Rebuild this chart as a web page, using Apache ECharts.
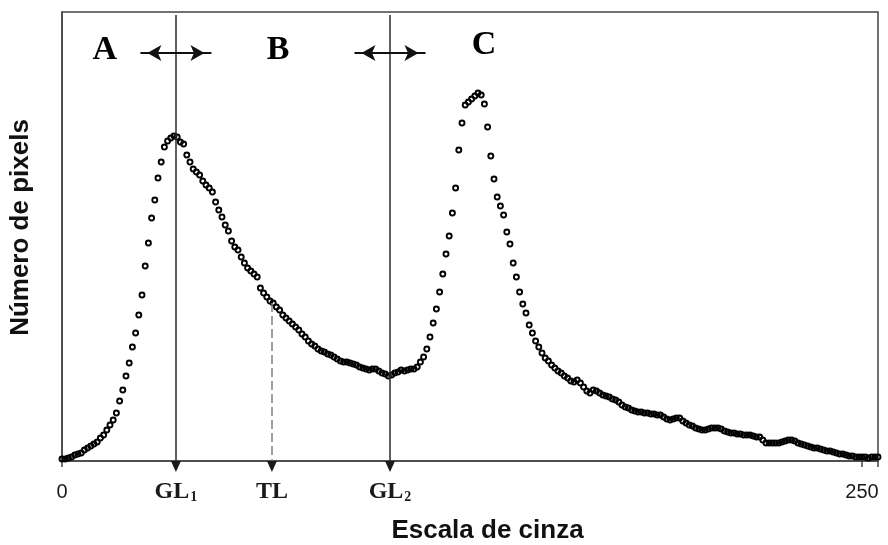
<!DOCTYPE html>
<html>
<head>
<meta charset="utf-8">
<script src="https://cdn.jsdelivr.net/npm/echarts@6/dist/echarts.min.js"></script>
<style>
  html, body { margin: 0; padding: 0; background: #fff; }
  #chart { width: 888px; height: 545px; }
</style>
</head>
<body>
<div id="chart"></div>
<script>
// Grey-level histogram: number of pixels for each grey level 0..255
const pixelCounts = [
  2, 2, 3, 4, 6, 7, 8, 11, 13, 15,
  17, 19, 23, 26, 31, 36, 41, 48, 60, 71,
  85, 98, 114, 128, 146, 166, 195, 218, 243, 261,
  283, 299, 314, 320, 323, 325, 324, 319, 317, 306,
  299, 292, 289, 286, 280, 276, 273, 269, 259, 251,
  244, 236, 230, 220, 214, 211, 204, 198, 193, 190,
  187, 184, 173, 168, 164, 160, 158, 154, 151, 146,
  143, 140, 137, 134, 131, 127, 124, 120, 117, 115,
  112, 110, 109, 107, 106, 104, 102, 100, 99, 99,
  98, 97, 96, 94, 93, 92, 91, 92, 92, 90,
  88, 87, 85, 86, 88, 89, 91, 90, 91, 92,
  92, 94, 99, 104, 112, 124, 138, 152, 169, 187,
  207, 225, 248, 273, 311, 338, 356, 359, 362, 365,
  368, 366, 357, 334, 305, 282, 264, 255, 246, 229,
  217, 198, 184, 169, 157, 148, 136, 128, 120, 114,
  108, 103, 100, 96, 93, 90, 88, 85, 83, 80,
  79, 81, 78, 74, 70, 68, 71, 70, 68, 66,
  65, 64, 62, 61, 59, 56, 54, 53, 51, 50,
  49, 49, 48, 48, 47, 47, 46, 46, 44, 42,
  41, 42, 43, 43, 40, 38, 36, 35, 33, 32,
  31, 31, 32, 33, 33, 33, 32, 30, 29, 28,
  28, 27, 27, 26, 26, 26, 25, 24, 24, 21,
  18, 18, 18, 18, 18, 19, 20, 21, 21, 20,
  18, 17, 16, 15, 14, 13, 13, 12, 11, 10,
  10, 9, 8, 7, 7, 6, 5, 5, 4, 4,
  4, 4, 3, 4, 4, 4
];

// Threshold grey levels marked on the axis
const thresholdNames = ['GL1', 'TL', 'GL2'];
const thresholdValues = [35.6, 65.6, 102.5];

// Axis end ticks
const tickValues = [0, 250];

// Region letters
const regionNames = ['A', 'B', 'C'];

// --- annotation placement (grey level, height in count units) ---
const yTop = 449;
const regionSpots = [[13.4, 411], [67.5, 411], [131.9, 416]];
const arrowHalfSpan = 11.1;
const arrowHeight = 408;
const boundaryTop = 446;

const GL1 = thresholdValues[0], TL = thresholdValues[1], GL2 = thresholdValues[2];
const tlCount = pixelCounts[Math.round(TL)];

const chart = echarts.init(document.getElementById('chart'), null, { renderer: 'canvas' });

const ink = '#111';
const vLine = { color: '#2b2b2b', width: 1.5, type: 'solid' };
const boundary = v => [
  { coord: [v, boundaryTop], lineStyle: vLine },
  { coord: [v, 0] }
];
const doubleArrow = v => [
  { coord: [v - arrowHalfSpan, arrowHeight], symbol: 'arrow', symbolSize: [12, 14], symbolOffset: [0, 7],
    lineStyle: { color: ink, width: 2, type: 'solid' } },
  { coord: [v + arrowHalfSpan, arrowHeight], symbol: 'arrow', symbolSize: [12, 14], symbolOffset: [0, 7] }
];

function axisLabelText(v) {
  const i = thresholdValues.indexOf(v);
  if (i >= 0) {
    const m = thresholdNames[i].match(/^(\D+)(\d)$/);
    return m ? '{serif|' + m[1] + '}{sub|' + m[2] + '}' : '{serif|' + thresholdNames[i] + '}';
  }
  return '{num|' + v + '}';
}

chart.setOption({
  animation: false,
  backgroundColor: '#fff',
  grid: {
    left: 62, right: 10, top: 12, bottom: 84,
    containLabel: false,
    outerBoundsMode: 'none',
    show: true, borderColor: '#444', borderWidth: 1.5, backgroundColor: 'transparent'
  },
  xAxis: {
    type: 'value',
    min: 0, max: 255, interval: 250,
    axisLine: { show: true, onZero: false, lineStyle: { color: '#444', width: 1.5 } },
    axisTick: { show: true, length: 6, lineStyle: { color: '#444', width: 1.5 } },
    splitLine: { show: false },
    axisLabel: {
      customValues: tickValues.concat(thresholdValues),
      margin: 19,
      formatter: axisLabelText,
      rich: {
        num: { fontFamily: 'Liberation Sans', fontSize: 20, color: '#1a1a1a', lineHeight: 24 },
        serif: { fontFamily: 'Liberation Serif', fontWeight: 'bold', fontSize: 24, color: '#1a1a1a', lineHeight: 24 },
        sub: { fontFamily: 'Liberation Serif', fontWeight: 'bold', fontSize: 14, color: '#1a1a1a',
               lineHeight: 10, verticalAlign: 'bottom', padding: [0, 0, 0, 1] }
      }
    },
    name: 'Escala de cinza',
    nameLocation: 'middle',
    nameGap: 57,
    nameTextStyle: { fontFamily: 'Liberation Sans', fontWeight: 'bold', fontSize: 26, color: ink,
                     padding: [0, 0, 0, 35] }
  },
  yAxis: {
    type: 'value',
    min: 0, max: yTop,
    axisLine: { show: true, lineStyle: { color: '#444', width: 1.5 } },
    axisTick: { show: false },
    axisLabel: { show: false },
    splitLine: { show: false },
    name: 'Número de pixels',
    nameLocation: 'middle',
    nameGap: 28,
    nameTextStyle: { fontFamily: 'Liberation Sans', fontWeight: 'bold', fontSize: 26, color: ink,
                     padding: [0, 0, 0, 18] }
  },
  series: [
    {
      name: 'annotations',
      type: 'line',
      data: [],
      silent: true,
      z: 2,
      markLine: {
        silent: true,
        animation: false,
        symbol: 'none',
        label: { show: false },
        emphasis: { disabled: true },
        lineStyle: vLine,
        data: [
          boundary(GL1),
          boundary(GL2),
          [
            { coord: [TL, tlCount], lineStyle: { color: '#808080', width: 1.5, type: [9, 4] } },
            { coord: [TL, 0] }
          ],
          doubleArrow(GL1),
          doubleArrow(GL2)
        ]
      }
    },
    {
      // arrowheads where the threshold lines meet the axis
      name: 'limiares',
      type: 'scatter',
      z: 3,
      silent: true,
      symbol: 'triangle',
      symbolSize: [10, 11],
      symbolRotate: 180,
      symbolOffset: [0, 5.5],
      itemStyle: { color: '#1a1a1a', opacity: 1 },
      data: thresholdValues.map(v => [v, 0])
    },
    {
      name: 'histograma',
      type: 'scatter',
      z: 4,
      symbol: 'circle',
      symbolSize: 5,
      itemStyle: { color: 'rgba(0,0,0,0)', borderColor: '#000', borderWidth: 1.9, opacity: 1 },
      data: pixelCounts.map((c, g) => [g, c])
    },
    {
      name: 'regiões',
      type: 'scatter',
      z: 5,
      symbolSize: 0,
      silent: true,
      itemStyle: { opacity: 1 },
      label: {
        show: true,
        position: 'inside',
        formatter: p => p.data[2],
        fontFamily: 'Liberation Serif',
        fontWeight: 'bold',
        fontSize: 34,
        color: '#000',
        opacity: 1
      },
      data: regionNames.map((n, i) => [regionSpots[i][0], regionSpots[i][1], n])
    }
  ]
});
</script>
</body>
</html>
